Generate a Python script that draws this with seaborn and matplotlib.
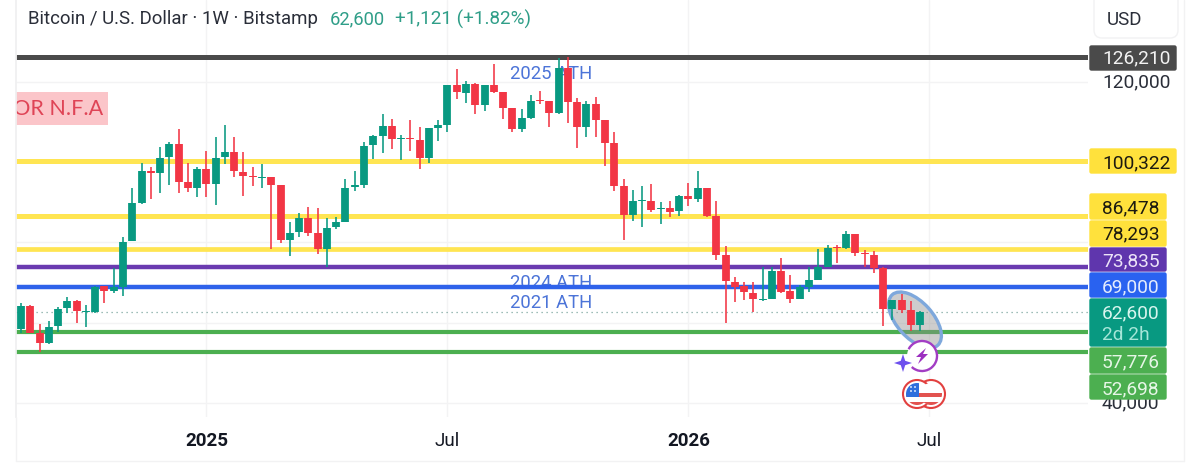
import matplotlib
matplotlib.use("Agg")
import matplotlib.pyplot as plt
import matplotlib.patches as mpatches
import matplotlib.dates as mdates
from matplotlib.transforms import Affine2D
import numpy as np
import pandas as pd
import seaborn as sns

# Weekly BTC/USD candles
opens = [58340,64160,57340,54850,59170,63580,65400,62660,62660,69140,67890,68810,80360,89910,97880,97220,
         101200,104450,95140,93560,98380,94480,101200,102450,97630,96470,96140,96220,94230,80600,82520,86000,
         82270,78360,83760,85170,93900,94230,104200,106520,109010,105690,105940,105610,100960,108430,109260,119150,
         117160,119480,114250,119320,117400,113420,108180,111010,115410,115240,112170,123470,114990,108680,114500,110510,
         104690,94140,86830,90240,90410,88250,88660,87750,91490,90820,93560,86590,76780,70140,69060,67480,
         65650,65900,72880,67810,65900,68810,70640,73790,78780,78530,82100,77280,76870,73540,63410,65570,
         63080,59420]
closes = [64160,57340,54850,58840,63490,65400,62910,62990,68970,67980,68970,80190,89740,97880,97380,101120,
          104450,95140,93560,98220,94480,101120,102450,97720,96470,96220,96390,94230,80600,82430,86000,82270,
          78360,83510,85090,93650,94310,104030,106520,109010,105860,105940,105690,101040,108430,109180,119150,117400,
          119480,114250,119230,117490,113420,108180,111090,115330,115160,112170,123470,115080,108680,114500,110510,104690,
          94140,86830,90320,90490,88080,88580,87670,91570,90900,93560,86670,76870,70300,68810,67560,65900,
          65980,72880,67730,65900,68970,70640,73960,78610,78530,82100,77450,77030,73540,63410,65570,63160,
          59420,62600]
highs = [64990,64400,59670,60420,63990,66480,65650,64400,69140,69140,73540,81430,93480,99880,98880,103700,
         105110,108350,99710,98880,102780,106190,109260,106360,102450,98880,99540,96390,94310,85170,87420,88750,
         88500,86000,86420,95720,97880,105110,106770,112000,110760,106770,110510,108850,108430,110510,119230,123140,
         120310,119650,119230,124470,117570,113420,113250,116740,117820,115240,125880,126210,115910,115240,116320,110510,
         107440,95720,93070,94060,94560,90160,90410,91820,94730,97880,93560,90410,79190,71300,70060,70060,
         73960,73790,76040,71880,69390,73960,78360,79360,79360,82850,82100,78110,77860,73790,65650,67150,
         65490,62910]
lows = [57510,57340,52780,54600,57760,62490,59840,58840,62330,64990,67480,66730,80360,89490,90740,92230,
        94310,92230,92480,91400,91240,89330,99540,96220,91650,94060,93480,78280,79940,76620,81270,81680,
        77120,73960,83260,85170,92900,93480,100710,102200,103200,100540,102870,98300,99880,105280,107600,115740,
        114660,112000,112840,117160,110680,107440,107440,110680,114500,108680,112000,109850,103610,106190,106190,99050,
        92900,80600,85340,83930,87670,84510,86420,86670,89160,90160,86420,75620,59840,65240,65650,62580,
        65400,65900,67480,64990,65900,67730,70640,73790,74960,78280,76700,73960,72460,59170,60670,62330,
        58010,58010]
first_week = "2024-08-12"

level_values = [126210, 100322, 86478, 78293, 73835, 69000, 57776, 52698]
level_colors = ["#4a4a4a", "#ffe552", "#ffe552", "#ffe552", "#6a3bb0", "#2f62ea", "#4caf50", "#4caf50"]
level_widths = [3.6, 3.6, 3.6, 3.4, 3.2, 3.2, 3.0, 3.0]
last_price = 62600
grid_prices = [40000, 60000, 80000, 100000, 120000]
price_tick_labels = ["40,000", "", "", "", "120,000"]
time_tick_weeks = [20, 46, 72, 98]
time_tick_labels = ["2025", "Jul", "2026", "Jul"]

UP, DOWN = "#089981", "#f23645"
W, H = 1200, 466

sns.set_theme(style="white")
plt.rcParams["font.family"] = ["Roboto", "DejaVu Sans"]

dates = pd.date_range(first_week, periods=len(opens), freq="7D")
candles = pd.DataFrame({"week": dates, "open": opens, "close": closes, "high": highs, "low": lows})
candles["direction"] = np.where(candles["close"] >= candles["open"], "up", "down")
wicks = candles.melt(id_vars=["week", "direction"], value_vars=["high", "low"], value_name="price")
bodies = candles.melt(id_vars=["week", "direction"], value_vars=["open", "close"], value_name="price")
palette = {"up": UP, "down": DOWN}

fig = plt.figure(figsize=(W / 100, H / 100), dpi=100, facecolor="white")
ax = fig.add_axes([16 / W, 1 - 417 / H, 1072 / W, 417 / H])
px = Affine2D().scale(1, -1).translate(0, H)   # image-style pixel coordinates for the chart furniture

# Candles: thin wicks, then thick butt-capped bodies
for frame, lw in ((wicks, 1.15), (bodies, 5.6)):
    sns.lineplot(data=frame, x="week", y="price", hue="direction", units="week", estimator=None,
                 palette=palette, linewidth=lw, solid_capstyle="butt", legend=False, zorder=4, ax=ax)

# Horizontal price levels sit under the candles
for value, color, width in zip(level_values, level_colors, level_widths):
    ax.axhline(value, color=color, lw=width, zorder=2, solid_capstyle="butt")
ax.axhline(last_price, color="#7fa8a0", lw=0.9, ls=(0, (1, 3)), zorder=2)

t0 = mdates.date2num(dates[0])
ax.set_xlim(t0 - 0.539 * 7, t0 + 115.1 * 7)
ax.set_ylim(36498, 140414)
ax.set_xticks([t0 + 7 * i for i in time_tick_weeks])
ax.set_xticklabels(time_tick_labels)
ax.set_yticks(grid_prices)
ax.set_yticklabels(price_tick_labels)
ax.yaxis.tick_right()
ax.set_xlabel("")
ax.set_ylabel("")
ax.grid(True, color="#f3f3f4", lw=1)
ax.set_axisbelow(True)
ax.tick_params(axis="x", length=0, pad=11, labelsize=13.5, labelcolor="#131722")
ax.tick_params(axis="y", length=0, pad=10, labelsize=13.8, labelcolor="#2a2e39")
for lbl, bold in zip(ax.get_xticklabels(), (True, False, True, False)):
    lbl.set_fontweight("bold" if bold else "normal")
for lbl in ax.get_yticklabels():
    lbl.set_va("center")
for side in ("top", "right", "bottom"):
    ax.spines[side].set_visible(False)
ax.spines["left"].set_color("#f0f0f1")

# Annotations on the chart pane
ax.add_patch(mpatches.Rectangle((16, 92), 92, 33, transform=px, fc="#fbc5c9", ec="none", zorder=1))
ax.text(103, 109, "FOR N.F.A", transform=px, ha="right", va="center", fontsize=15.5, color="#df4456",
        family="Lato", zorder=1.5, clip_on=True)
for y, label in ((74, "2025 ATH"), (283, "2024 ATH"), (303, "2021 ATH")):
    ax.text(551, y, label, transform=px, ha="center", va="center", fontsize=13.3, color="#4c74d8", zorder=1.5)

# Highlight around the latest candles: the tint covers the levels but not the candles
ax.add_patch(mpatches.Ellipse((915, 320), 68, 36, angle=48, transform=px, fc="#8a8a8a", ec="none",
                              alpha=0.42, zorder=3))
ax.add_patch(mpatches.Ellipse((915, 320), 68, 36, angle=48, transform=px, fc="none", ec="#7ea8dc",
                              lw=2.4, zorder=3))

# Lightning badge
cx, cy = 922, 356
ax.add_patch(mpatches.Circle((cx, cy), 15, transform=px, fc="white", ec="none", zorder=6))
ax.add_patch(mpatches.Arc((cx, cy), 30, 30, theta1=207, theta2=493, transform=px, ec="#a23dc4", lw=1.7, zorder=7))
bolt = np.array([(4, -8), (-6, 1), (-1, 1), (-4, 8), (6, -2), (1, -2)], float) + (cx, cy)
ax.add_patch(mpatches.Polygon(bolt, transform=px, fc="#9c2fc0", ec="none", zorder=7))
star = np.array([(0, -9), (2.2, -2.2), (9, 0), (2.2, 2.2), (0, 9), (-2.2, 2.2), (-9, 0), (-2.2, -2.2)]) + (903, 363)
ax.add_patch(mpatches.Polygon(star, transform=px, fc="#6d50ee", ec="none", zorder=7))

# Economic-event flag coins
for coin_x in (931, 917):
    ax.add_patch(mpatches.Circle((coin_x, 394), 14, transform=px, fc="white", ec="#e2403f", lw=1.5, zorder=6))
    disc = mpatches.Circle((coin_x, 394), 11, transform=px, fc="white", ec="none", zorder=6.1)
    ax.add_patch(disc)
    for stripe_y, stripe_h in ((393, 4), (402, 3)):
        s = mpatches.Rectangle((coin_x - 12, stripe_y), 24, stripe_h, transform=px, fc="#e2524f", ec="none", zorder=6.2)
        ax.add_patch(s)
        s.set_clip_path(disc)
    if coin_x == 917:
        canton = mpatches.Rectangle((coin_x - 12, 382), 14, 15, transform=px, fc="#2f6fdd", ec="none", zorder=6.3)
        ax.add_patch(canton)
        canton.set_clip_path(disc)
        for dot_x in (911, 915):
            for dot_y in (387, 391):
                ax.add_patch(mpatches.Circle((dot_x, dot_y), 0.9, transform=px, fc="white", ec="none", zorder=6.4))

# Price-scale tags, stacked so that they do not overlap
tag_layout = [
    (45, 71, 1177, 56, "126,210", "#4a4a4a", "#f2f2f2"),
    (148, 174, 1177, 161, "100,322", "#ffe13c", "#1c1a10"),
    (193, 220, 1167, 206, "86,478", "#ffe13c", "#1c1a10"),
    (220, 247, 1167, 232, "78,293", "#ffe13c", "#1c1a10"),
    (247, 272, 1167, 259, "73,835", "#5f36ad", "#ece4f8"),
    (272, 298, 1167, 285, "69,000", "#2962f0", "#e4ecfd"),
    (347, 374, 1167, 360, "57,776", "#4caf50", "#e6f6e6"),
    (374, 400, 1167, 387, "52,698", "#4caf50", "#e6f6e6"),
]
def add_tag(top, bottom, right, color):
    fig.add_artist(mpatches.FancyBboxPatch((1090, top + 1), right - 1091, bottom - top - 2, transform=px,
                                           boxstyle="round,pad=0,rounding_size=1.5", fc=color, ec=color,
                                           lw=1, zorder=3))
for top, bottom, right, text_y, label, color, ink in tag_layout:
    add_tag(top, bottom, right, color)
    fig.text(1102, text_y, label, transform=px, ha="left", va="center_baseline", fontsize=13.8,
             color=ink, zorder=4)
add_tag(298, 347, 1167, UP)
fig.text(1102, 311, "62,600", transform=px, ha="left", va="center_baseline", fontsize=13.8, color="#d8f5ee", zorder=4)
fig.text(1102, 333, "2d 2h", transform=px, ha="left", va="center_baseline", fontsize=13.8, color="#a5e6d8", zorder=4)

# Header and currency button
fig.text(28, 17, "Bitcoin / U.S. Dollar · 1W · Bitstamp", transform=px, ha="left", va="center_baseline",
         fontsize=13.4, color="#2a2e39")
fig.text(330, 17, "62,600", transform=px, ha="left", va="center_baseline", fontsize=13.2, color="#2f9e88")
fig.text(395, 17, "+1,121 (+1.82%)", transform=px, ha="left", va="center_baseline", fontsize=13.6, color="#2f9e88")
fig.add_artist(mpatches.FancyBboxPatch((1094, -12), 84, 50, transform=px, boxstyle="round,pad=0,rounding_size=8",
                                       fc="white", ec="#f2f2f3", lw=1, zorder=2))
fig.text(1125, 18, "USD", transform=px, ha="center", va="center_baseline", fontsize=13.5, color="#2a2e39", zorder=3)

# Outer frame of the chart widget
fig.add_artist(plt.Line2D([1184, 1184], [0, 461], transform=px, color="#f2f2f3", lw=1))
fig.add_artist(plt.Line2D([16, 1184], [461, 461], transform=px, color="#f2f2f3", lw=1))
fig.add_artist(plt.Line2D([16, 16], [417, 461], transform=px, color="#f2f2f3", lw=1))

fig.savefig("out.png", dpi=100)
